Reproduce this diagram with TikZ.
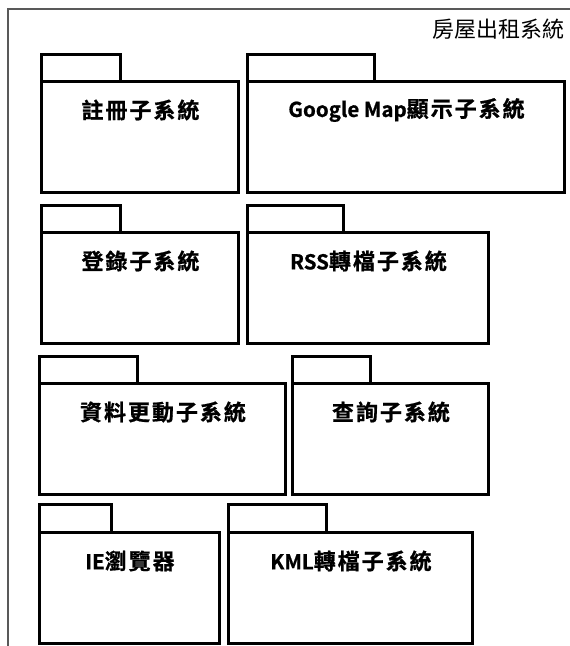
\documentclass[tikz,border=0pt]{standalone}
\usepackage{fontspec}
\newfontfamily\cjkb[LetterSpace=9,FakeBold=0.8]{Noto Sans CJK TC Bold}
\newfontfamily\latb[FakeBold=0.8]{Noto Sans CJK TC Bold}
\newfontfamily\cjkr{Noto Sans CJK TC}
\newcommand\lat[1]{{\latb\fontsize{20.5}{24}\selectfont #1}}
\tikzset{
  pkgline/.style={draw=black, line width=3pt, line join=miter},
  frameline/.style={draw=black!65, line width=1.3pt},
  pkglabel/.style={font=\cjkb\fontsize{22}{24}\selectfont, inner sep=0pt, anchor=center},
  titlelabel/.style={font=\cjkr\fontsize{22}{24}\selectfont, inner sep=0pt, anchor=east}
}
% #1 name, #2 left, #3 tab right, #4 right, #5 tab top, #6 body top, #7 bottom, #8 text
\newcommand\mypkg[8]{%
  \draw[pkgline] (#2,-#5) rectangle (#3,-#6);
  \draw[pkgline] (#2,-#6) rectangle (#4,-#7);
  \node[pkglabel] (#1) at ({(#2+#4)/2+1},{-#6-29}) {#8};
}
\begin{document}
\begin{tikzpicture}[x=1pt,y=1pt]
\useasboundingbox (0,0) rectangle (570,-646);
\begin{scope}
\clip (0,0) rectangle (570,-646);
\draw[frameline] (8,-9) rectangle (600,-700);
\end{scope}
\node[titlelabel] (title) at (565,-29) {房屋出租系統};
\mypkg{p1}{41}{120}{238}{54}{81}{192}{註冊子系統}
\mypkg{p2}{247}{374}{564}{54}{81}{192}{\lat{Google Map}顯示子系統}
\mypkg{p3}{41}{120}{238}{205}{232}{343}{登錄子系統}
\mypkg{p4}{247}{343}{488}{205}{232}{343}{\lat{RSS}轉檔子系統}
\mypkg{p5}{39}{137}{285}{356}{383}{494}{資料更動子系統}
\mypkg{p6}{292}{370}{488}{356}{383}{494}{查詢子系統}
\mypkg{p7}{39}{111}{219}{504}{532}{643}{\lat{IE}瀏覽器}
\mypkg{p8}{228}{326}{472}{504}{532}{643}{\lat{KML}轉檔子系統}
\end{tikzpicture}
\end{document}
